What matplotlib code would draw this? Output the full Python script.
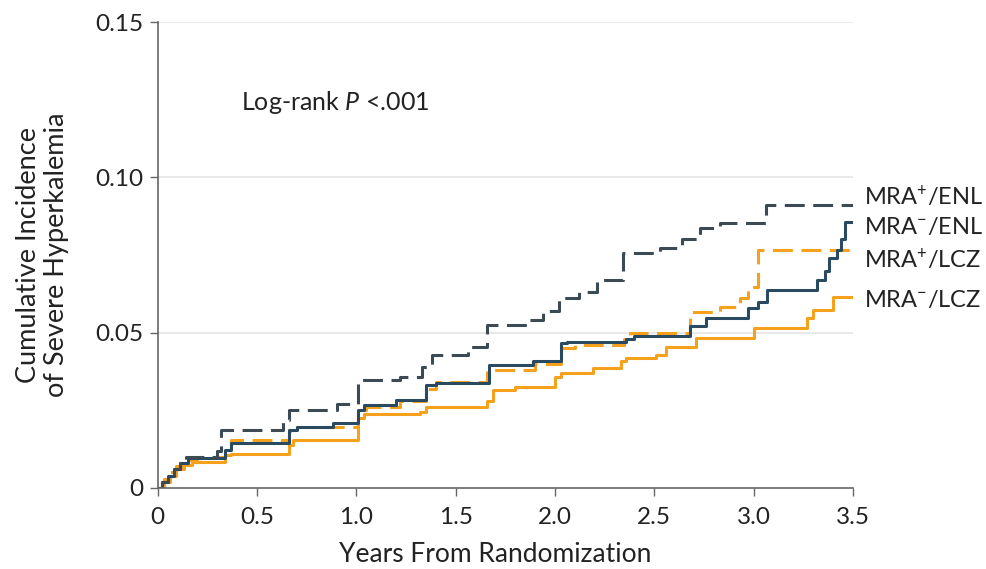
import matplotlib
matplotlib.use("Agg")
import matplotlib.pyplot as plt

plt.rcParams['font.family'] = ['Lato', 'DejaVu Sans']
plt.rcParams['mathtext.fontset'] = 'custom'
plt.rcParams['mathtext.rm'] = 'Lato'
plt.rcParams['mathtext.it'] = 'Lato:italic'

# step curves (years, cumulative incidence)
enl_pos_t = [0, 0.02, 0.05, 0.08, 0.11, 0.14, 0.30, 0.32, 0.63, 0.66, 0.90, 1.01, 1.22, 1.33,
             1.38, 1.56, 1.66, 1.86, 1.94, 2.02, 2.12, 2.21, 2.34, 2.53, 2.64, 2.73, 2.83,
             3.06, 3.5]
enl_pos_v = [0, 0.002, 0.004, 0.006, 0.008, 0.010, 0.012, 0.0187, 0.022, 0.025, 0.027, 0.0348,
             0.0357, 0.039, 0.0428, 0.0454, 0.0525, 0.054, 0.057, 0.061, 0.063, 0.067, 0.0757,
             0.0773, 0.080, 0.0837, 0.0853, 0.0911, 0.0911]

enl_neg_t = [0, 0.02, 0.05, 0.08, 0.11, 0.15, 0.34, 0.37, 0.66, 0.70, 0.88, 1.01, 1.04, 1.20,
             1.35, 1.40, 1.67, 1.89, 2.03, 2.06, 2.36, 2.40, 2.68, 2.76, 2.97, 3.02, 3.07,
             3.32, 3.36, 3.38, 3.42, 3.44, 3.46, 3.5]
enl_neg_v = [0, 0.002, 0.004, 0.006, 0.008, 0.0097, 0.0122, 0.0145, 0.0187, 0.0197, 0.021,
             0.025, 0.0267, 0.0283, 0.033, 0.0338, 0.0396, 0.041, 0.0467, 0.047, 0.048, 0.049,
             0.052, 0.0547, 0.058, 0.060, 0.0637, 0.067, 0.070, 0.074, 0.0766, 0.080, 0.0856,
             0.0856]

lcz_pos_t = [0, 0.03, 0.06, 0.09, 0.13, 0.20, 0.34, 0.37, 0.66, 0.70, 1.01, 1.05, 1.22, 1.35,
             1.40, 1.66, 1.90, 2.03, 2.10, 2.35, 2.38, 2.68, 2.83, 2.93, 2.97, 3.02, 3.5]
lcz_pos_v = [0, 0.003, 0.005, 0.007, 0.009, 0.010, 0.013, 0.0155, 0.0185, 0.0197, 0.025, 0.026,
             0.028, 0.032, 0.034, 0.038, 0.040, 0.045, 0.046, 0.048, 0.050, 0.0567, 0.0583,
             0.061, 0.0647, 0.0766, 0.0766]

lcz_neg_t = [0, 0.03, 0.06, 0.09, 0.13, 0.17, 0.34, 0.37, 0.66, 0.68, 1.01, 1.04, 1.32, 1.35,
             1.66, 1.69, 1.80, 2.00, 2.03, 2.19, 2.33, 2.36, 2.51, 2.56, 2.71, 3.00, 3.27,
             3.30, 3.40, 3.5]
lcz_neg_v = [0, 0.002, 0.004, 0.006, 0.0075, 0.0084, 0.0106, 0.011, 0.0138, 0.0155, 0.0225,
             0.0238, 0.0245, 0.026, 0.028, 0.0315, 0.0325, 0.0357, 0.037, 0.0386, 0.041, 0.042,
             0.0428, 0.0454, 0.0483, 0.0515, 0.0547, 0.0573, 0.0615, 0.0615]

labels = ['MRA$^{+}$/ENL', 'MRA$^{-}$/ENL', 'MRA$^{+}$/LCZ', 'MRA$^{-}$/LCZ']
label_y = [0.094, 0.084, 0.0737, 0.0605]

xticks = [0, 0.5, 1.0, 1.5, 2.0, 2.5, 3.0, 3.5]
xtick_labels = ['0', '0.5', '1.0', '1.5', '2.0', '2.5', '3.0', '3.5']
yticks = [0, 0.05, 0.10, 0.15]
ytick_labels = ['0', '0.05', '0.10', '0.15']

dark = '#3c4b53'
navy = '#2a4a62'
orange = '#f5a11c'
txt = '#222222'

fig = plt.figure(figsize=(9.86, 5.69), dpi=100)
ax = fig.add_axes([0.160, 0.1424, 0.705, 0.8189])

for yv in yticks[1:]:
    ax.axhline(yv, color='#e4e4e4', lw=1.2, zorder=0)

ax.step(lcz_neg_t, lcz_neg_v, where='post', color=orange, lw=2.2)
ax.step(lcz_pos_t, lcz_pos_v, where='post', color=orange, lw=2.2, dashes=(6.5, 2.8))
ax.step(enl_neg_t, enl_neg_v, where='post', color=navy, lw=2.2)
ax.step(enl_pos_t, enl_pos_v, where='post', color=dark, lw=2.2, dashes=(6.5, 2.8))

for lab, yv in zip(labels, label_y):
    ax.text(3.555, yv, lab, fontsize=17, color=txt, va='center', ha='left', clip_on=False)

ax.text(0.42, 0.124, 'Log-rank $\\it{P}$ <.001', fontsize=18, color=txt, va='center')

ax.set_xlim(0, 3.5)
ax.set_ylim(0, 0.15)
ax.set_xticks(xticks)
ax.set_xticklabels(xtick_labels)
ax.set_yticks(yticks)
ax.set_yticklabels(ytick_labels)
ax.tick_params(labelsize=17.5, colors=txt, length=6, width=1, direction='out')
ax.tick_params(axis='both', color='#666666')
ax.tick_params(axis='x', pad=8)
ax.tick_params(axis='y', pad=4)

for side in ['top', 'right']:
    ax.spines[side].set_visible(False)
for side in ['left', 'bottom']:
    ax.spines[side].set_color('#666666')
    ax.spines[side].set_linewidth(1.2)

ax.set_xlabel('Years From Randomization', fontsize=19, color=txt)
ax.xaxis.set_label_coords(0.485, -0.115)
ax.set_ylabel('Cumulative Incidence\nof Severe Hyperkalemia', fontsize=19.5, color=txt,
              linespacing=1.15)
ax.yaxis.set_label_coords(-0.127, 0.5)

fig.savefig('out.png', dpi=100)
